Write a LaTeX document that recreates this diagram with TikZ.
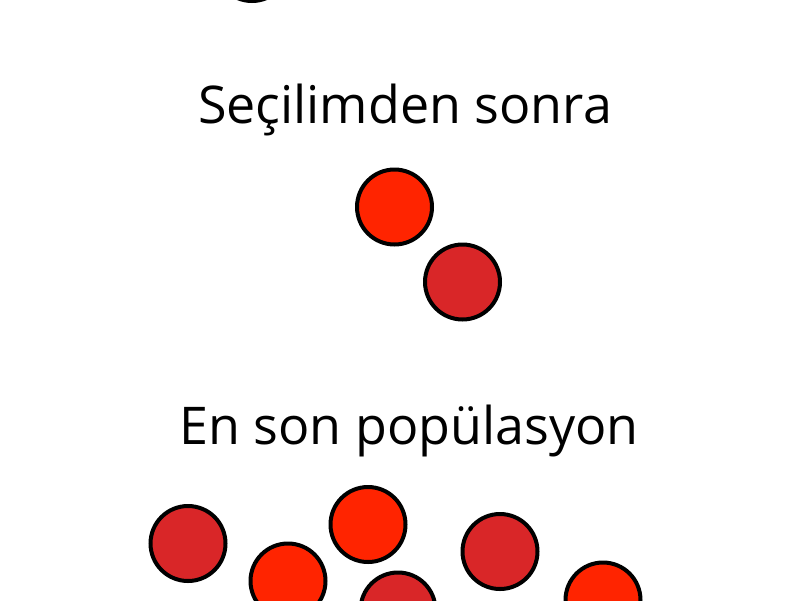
\documentclass[tikz,border=0pt]{standalone}
\usepackage{fontspec}
\setmainfont{Open Sans}
\definecolor{brightred}{HTML}{FF2400}
\definecolor{darkred}{HTML}{D92628}
\begin{document}
\begin{tikzpicture}[x=1pt,y=-1pt,
    ball/.style={circle,draw=black,line width=4pt,inner sep=0pt,minimum size=75pt},
    hot/.style={ball,fill=brightred},
    dim/.style={ball,fill=darkred},
    caption/.style={anchor=base,font=\fontsize{52}{60}\selectfont}]
\useasboundingbox (0,0) rectangle (800,600);
\clip (0,0) rectangle (800,600);
% before selection (cut off)
\node [hot] (s0) at (252,-36.5) {};
% after selection
\node [caption] (after) at (405,123) {Seçilimden sonra};
\node [hot] (a1) at (394.5,207) {};
\node [dim] (a2) at (462.5,282) {};
% final population
\node [caption] (final) at (409,444) {En son popülasyon};
\node [dim] (f1) at (188,543.5) {};
\node [hot] (f2) at (288,581) {};
\node [hot] (f3) at (368,524.5) {};
\node [dim] (f4) at (398,610) {};
\node [dim] (f5) at (500,551.5) {};
\node [hot] (f6) at (603,600) {};
\end{tikzpicture}
\end{document}
